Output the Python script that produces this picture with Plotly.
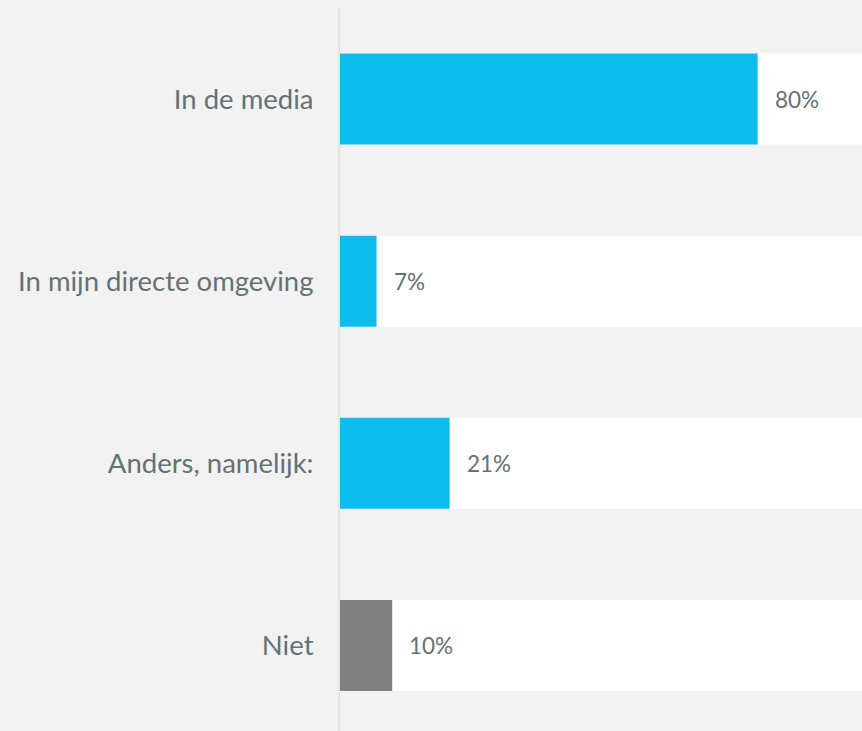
import plotly.graph_objects as go

categories = ["In de media", "In mijn directe omgeving", "Anders, namelijk:", "Niet"]
values = [80, 7, 21, 10]
colors = ["#0dbced", "#0dbced", "#0dbced", "#808080"]
track = [100, 100, 100, 100]
labels = ["80%", "7%", "21%", "10%"]

FONT = "Lato"
TXT = "#657172"

fig = go.Figure()
fig.add_trace(go.Bar(y=categories, x=track, orientation="h", marker=dict(color="#ffffff", line=dict(width=0)),
                     hoverinfo="skip", showlegend=False))
fig.add_trace(go.Bar(y=categories, x=values, orientation="h", marker=dict(color=colors, line=dict(width=0)),
                     showlegend=False))

for c, v, t in zip(categories, values, labels):
    fig.add_annotation(x=v, y=c, text=t, showarrow=False, xanchor="left", xshift=15,
                       font=dict(family=FONT, size=22.5, color=TXT))

fig.update_layout(
    width=862, height=731,
    margin=dict(l=340, r=0, t=8, b=0),
    paper_bgcolor="#f2f2f2", plot_bgcolor="#f2f2f2",
    barmode="overlay", bargap=0.5,
    font=dict(family=FONT, size=27.5, color=TXT),
    xaxis=dict(range=[0, 100], showgrid=False, zeroline=False, showticklabels=False, fixedrange=True),
    yaxis=dict(type="category", range=[3.47, -0.5], showgrid=False, zeroline=False,
               showline=True, linecolor="#e5e5e5", linewidth=2, ticklabelstandoff=19,
               tickfont=dict(family=FONT, size=27.5, color=TXT)),
)
fig.write_html("out.html", config={"displayModeBar": False},
               post_script="document.body.style.margin='0';document.body.style.background='#f2f2f2';")
